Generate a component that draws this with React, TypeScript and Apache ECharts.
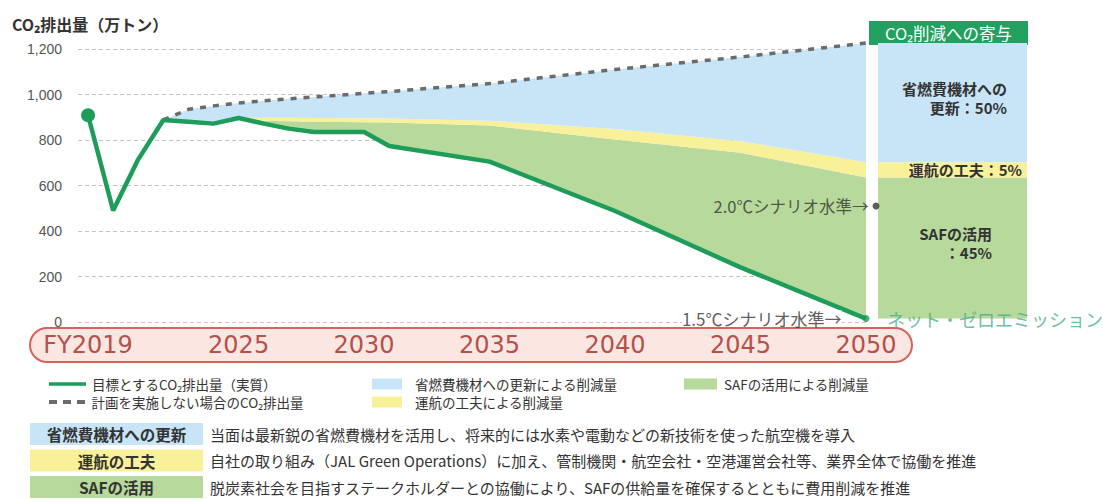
import React, { useEffect, useRef } from "react";
import * as echarts from "echarts";

// ---- data ----
const years = [2019, 2020, 2021, 2022, 2023, 2024, 2025, 2026, 2027, 2028, 2030, 2031, 2035, 2040, 2045, 2050];
const targetEmissions = [909, 490, 715, 888, 880, 872, 897, 872, 850, 835, 835, 774, 705, 488, 240, 15];
const safTop = [909, 490, 715, 888, 880, 872, 897, 885, 882, 880, 878, 877, 864, 802, 744, 635];
const operationTop = [909, 490, 715, 888, 880, 872, 897, 898, 898, 897, 896, 895, 885, 848, 795, 702];
const noPlanEmissions: (number | null)[] = [null, null, null, 888, 935, 950, 963, 972, 981, 989, 1005, 1013, 1048, 1110, 1165, 1226];

const xTickYears = [2019, 2025, 2030, 2035, 2040, 2045, 2050];
const scenario20 = { year: 2050, value: 510, label: "2.0℃シナリオ水準→" };
const scenario15Label = "1.5℃シナリオ水準→";
const netZeroLabel = "ネット・ゼロエミッション";

const contributionHeader = "CO₂削減への寄与";
const contributionLabels = ["SAFの活用\n：45%", "運航の工夫：5%", "省燃費機材への\n更新：50%"];

const names = {
  target: "目標とするCO₂排出量（実質）",
  noPlan: "計画を実施しない場合のCO₂排出量",
  fleet: "省燃費機材への更新による削減量",
  ops: "運航の工夫による削減量",
  saf: "SAFの活用による削減量",
};

const tableLabels = ["省燃費機材への更新", "運航の工夫", "SAFの活用"];
const tableDescriptions = [
  "当面は最新鋭の省燃費機材を活用し、将来的には水素や電動などの新技術を使った航空機を導入",
  "自社の取り組み（JAL Green Operations）に加え、管制機関・航空会社・空港運営会社等、業界全体で協働を推進",
  "脱炭素社会を目指すステークホルダーとの協働により、SAFの供給量を確保するとともに費用削減を推進",
];

// ---- styles ----
const C = {
  line: "#1d9c5a",
  green: "#b7d99b",
  yellow: "#f9f09a",
  blue: "#c7e5f7",
  dash: "#6b6b6b",
  header: "#22a060",
  red: "#d9625a",
  redFill: "#fce6e2",
  redText: "#b5504a",
  text: "#333333",
};
const FONT = '"Noto Sans CJK JP", "Noto Sans", sans-serif';
const tableColors = [C.blue, C.yellow, C.green];

export default function App() {
  const ref = useRef<HTMLDivElement>(null);

  useEffect(() => {
    if (!ref.current) return;
    const chart = echarts.init(ref.current, undefined, { renderer: "svg" });

    const last = years.length - 1;
    // stacked series use [value, year] with encode so that the value dimension is stacked
    const safBand = years.map((y, i) => [safTop[i] - targetEmissions[i], y]);
    const opsBand = years.map((y, i) => [operationTop[i] - safTop[i], y]);
    const fleetBand = years.map((y, i) => [
      noPlanEmissions[i] == null ? 0 : (noPlanEmissions[i] as number) - operationTop[i],
      y,
    ]);
    const targetData = years.map((y, i) =>
      i === 0
        ? { value: [targetEmissions[i], y], symbol: "circle", symbolSize: 14 }
        : { value: [targetEmissions[i], y], symbol: "none" }
    );
    const noPlanData = years.map((y, i) => [y, noPlanEmissions[i]]);

    const panelBase = targetEmissions[last];
    const panelSaf = safTop[last] - targetEmissions[last];
    const panelOps = operationTop[last] - safTop[last];
    const panelFleet = (noPlanEmissions[last] as number) - operationTop[last];

    const bandCommon = {
      type: "line",
      stack: "co2",
      encode: { x: 1, y: 0 },
      symbol: "none",
      lineStyle: { width: 0 },
      clip: false,
      z: 2,
    };

    const panelLabel = {
      show: true,
      color: C.text,
      fontSize: 15,
      fontWeight: "bold",
      lineHeight: 19,
      fontFamily: FONT,
    };

    const legendText = { fontSize: 13.5, color: C.text, fontFamily: FONT, lineHeight: 16 };
    const legendItem = (left: number, top: number, name: string, icon: string, w: number, h: number, pad: number) => ({
      left,
      top,
      padding: 0,
      itemWidth: w,
      itemHeight: h,
      itemStyle: { borderWidth: 0 },
      selectedMode: false,
      textStyle: { ...legendText, padding: [0, 0, 0, pad] },
      data: [{ name, icon }],
    });

    const graphics: any[] = [
      {
        type: "rect",
        z: -10,
        shape: { x: 30, y: 328, width: 882, height: 34, r: 17 },
        style: { fill: C.redFill, stroke: C.red, lineWidth: 2 },
      },
      {
        type: "rect",
        shape: { x: 869, y: 21, width: 159, height: 24 },
        style: { fill: C.header },
      },
      {
        type: "text",
        x: 948.5,
        y: 33,
        style: {
          text: contributionHeader,
          fill: "#ffffff",
          fontSize: 16.5,
          fontFamily: FONT,
          align: "center",
          verticalAlign: "middle",
        },
      },
    ];
    tableLabels.forEach((lab, i) => {
      const y = 423 + i * 26.5;
      graphics.push({
        type: "rect",
        shape: { x: 30, y, width: 173, height: 22 },
        style: { fill: tableColors[i] },
      });
      graphics.push({
        type: "text",
        x: 116.5,
        y: y + 11,
        style: {
          text: lab,
          fill: C.text,
          fontSize: 15.5,
          fontWeight: "bold",
          fontFamily: FONT,
          align: "center",
          verticalAlign: "middle",
        },
      });
      graphics.push({
        type: "text",
        x: 210,
        y: y + 11,
        style: {
          text: tableDescriptions[i],
          fill: C.text,
          fontSize: 15,
          fontFamily: FONT,
          align: "left",
          verticalAlign: "middle",
        },
      });
    });

    const option: any = {
      animation: false,
      textStyle: { fontFamily: FONT },
      grid: [
        { left: 78, top: 49, right: 237, bottom: 177, containLabel: false },
        { left: 878, top: 49, width: 149, bottom: 177, containLabel: false },
      ],
      legend: [
        legendItem(49, 376, names.target, "path://M0,0h40v4h-40z", 37, 4, 1),
        legendItem(49, 394, names.noPlan, "path://M0,0h8v4h-8z M14,0h8v4h-8z M28,0h8v4h-8z", 37, 4, 1),
        legendItem(372, 376, names.fleet, "rect", 30, 11, 8),
        legendItem(372, 394, names.ops, "rect", 30, 11, 8),
        legendItem(684, 376, names.saf, "rect", 33, 11, 2),
      ],
      xAxis: [
        {
          type: "value",
          gridIndex: 0,
          min: 2018.6,
          max: 2050,
          axisLine: { show: false },
          axisTick: { show: false },
          splitLine: { show: false },
          axisLabel: {
            customValues: xTickYears,
            formatter: (v: number) => (v === xTickYears[0] ? "FY" + v : String(v)),
            color: C.redText,
            fontSize: 24,
            fontFamily: '"DejaVu Sans", sans-serif',
            margin: 11,
          },
        },
        {
          type: "category",
          gridIndex: 1,
          data: [String(years[last])],
          show: false,
        },
      ],
      yAxis: [
        {
          type: "value",
          gridIndex: 0,
          min: 0,
          max: 1200,
          interval: 200,
          name: "CO₂排出量（万トン）",
          nameLocation: "end",
          nameGap: 17,
          nameTextStyle: {
            align: "left",
            padding: [0, 0, 0, -66],
            fontSize: 16,
            fontWeight: "bold",
            color: C.text,
            fontFamily: FONT,
          },
          axisLine: { show: false },
          axisTick: { show: false },
          axisLabel: {
            formatter: (v: number) => v.toLocaleString("en-US"),
            color: "#555",
            fontSize: 14,
            margin: 16,
            fontFamily: '"Liberation Sans", sans-serif',
          },
          splitLine: { lineStyle: { type: [4, 3], color: "#c4c4c4", width: 1 } },
        },
        {
          type: "value",
          gridIndex: 1,
          min: 0,
          max: 1200,
          show: false,
          splitLine: { show: false },
        },
      ],
      series: [
        {
          name: names.target,
          type: "line",
          stack: "co2",
          encode: { x: 1, y: 0 },
          data: targetData,
          symbol: "none",
          showSymbol: true,
          lineStyle: { color: C.line, width: 4.5 },
          itemStyle: { color: C.line },
          clip: false,
          z: 4,
        },
        { ...bandCommon, name: names.saf, data: safBand, itemStyle: { color: C.green }, areaStyle: { color: C.green, opacity: 1 } },
        { ...bandCommon, name: names.ops, data: opsBand, itemStyle: { color: C.yellow }, areaStyle: { color: C.yellow, opacity: 1 } },
        { ...bandCommon, name: names.fleet, data: fleetBand, itemStyle: { color: C.blue }, areaStyle: { color: C.blue, opacity: 1 } },
        {
          name: names.noPlan,
          type: "line",
          data: noPlanData,
          symbol: "none",
          lineStyle: { color: C.dash, width: 3.5, type: [6, 7] },
          itemStyle: { color: C.dash },
          clip: false,
          z: 3,
        },
        {
          name: "scenario20",
          type: "scatter",
          data: [[scenario20.year, scenario20.value]],
          symbolSize: 7,
          symbolOffset: [10, 0],
          itemStyle: { color: "#333" },
          label: {
            show: true,
            position: "left",
            distance: 4,
            formatter: scenario20.label,
            color: C.text,
            fontSize: 16.5,
            fontFamily: FONT,
          },
          clip: false,
          z: 5,
        },
        {
          name: "scenario15",
          type: "scatter",
          data: [[years[last], targetEmissions[last]]],
          symbolSize: 7,
          itemStyle: { color: C.line },
          label: {
            show: true,
            position: "left",
            distance: 21,
            formatter: scenario15Label,
            color: C.text,
            fontSize: 17,
            fontFamily: FONT,
            backgroundColor: "#ffffff",
          },
          clip: false,
          z: 5,
        },
        {
          name: "netzero",
          type: "scatter",
          data: [[years[last], targetEmissions[last]]],
          symbolSize: 0,
          label: {
            show: true,
            position: "right",
            distance: 21,
            formatter: netZeroLabel,
            color: "#45ae8c",
            fontSize: 18,
            fontFamily: FONT,
          },
          clip: false,
          z: 5,
        },
        {
          name: "panelBase",
          type: "bar",
          xAxisIndex: 1,
          yAxisIndex: 1,
          stack: "panel",
          barWidth: "100%",
          data: [panelBase],
          itemStyle: { color: "rgba(0,0,0,0)" },
          clip: false,
        },
        {
          name: "panelSaf",
          type: "bar",
          xAxisIndex: 1,
          yAxisIndex: 1,
          stack: "panel",
          barWidth: "100%",
          data: [panelSaf],
          itemStyle: { color: C.green },
          label: { ...panelLabel, formatter: contributionLabels[0], position: [114, 46], align: "right", verticalAlign: "top" },
          clip: false,
        },
        {
          name: "panelOps",
          type: "bar",
          xAxisIndex: 1,
          yAxisIndex: 1,
          stack: "panel",
          barWidth: "100%",
          data: [panelOps],
          itemStyle: { color: C.yellow },
          label: { ...panelLabel, formatter: contributionLabels[1], position: "insideRight", distance: 5 },
          clip: false,
        },
        {
          name: "panelFleet",
          type: "bar",
          xAxisIndex: 1,
          yAxisIndex: 1,
          stack: "panel",
          barWidth: "100%",
          data: [panelFleet],
          itemStyle: { color: C.blue },
          label: { ...panelLabel, formatter: contributionLabels[2], position: [129, 36], align: "right", verticalAlign: "top" },
          clip: false,
        },
      ],
      graphic: graphics,
    };

    chart.setOption(option);
    return () => chart.dispose();
  }, []);

  return (
    <div
      ref={ref}
      style={{ position: "absolute", left: 0, top: 0, width: 1103, height: 499, background: "#ffffff" }}
    />
  );
}
